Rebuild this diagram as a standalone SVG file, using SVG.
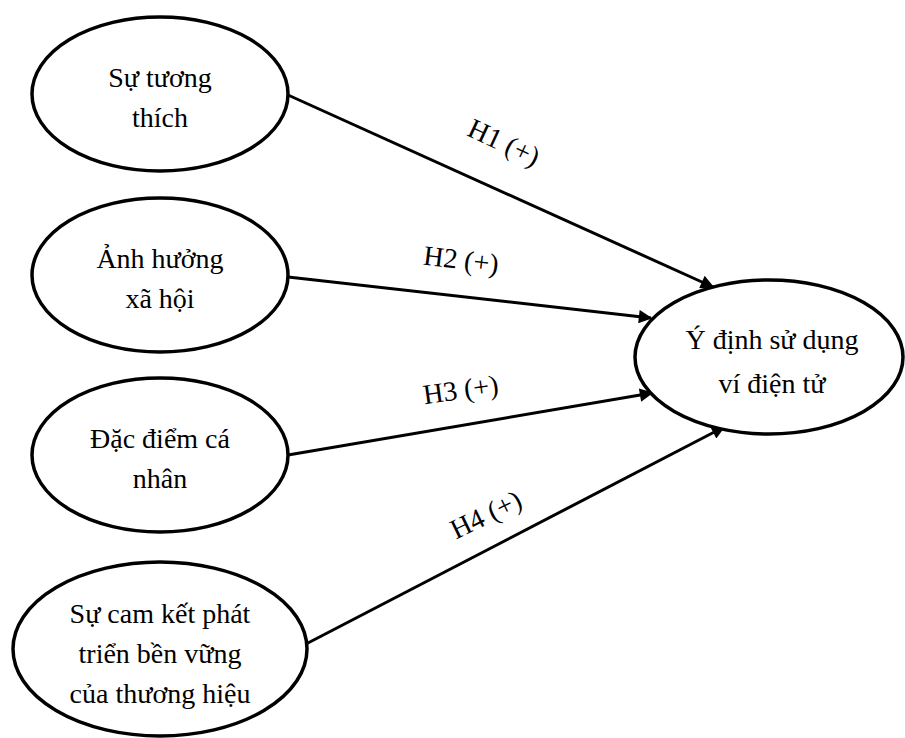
<svg xmlns="http://www.w3.org/2000/svg" width="905" height="738" viewBox="0 0 905 738">
<style>
.node{fill:#fff;stroke:#000;stroke-width:3.5}
.t{font-family:"Liberation Serif","Times New Roman",serif;font-size:28px;fill:#000;text-anchor:middle}
.c{stroke:#000;stroke-width:3;fill:none;marker-end:url(#ah)}
</style>
<defs>
<marker id="ah" viewBox="0 0 10 10" refX="9" refY="5" markerWidth="5.5" markerHeight="4.5" orient="auto" markerUnits="strokeWidth">
<path d="M0,0 L10,5 L0,10 z" fill="#000"/>
</marker>
</defs>
<rect width="905" height="738" fill="#fff"/>
<g id="connectors">
<line class="c" x1="288" y1="95" x2="713" y2="287"/>
<line class="c" x1="288" y1="277" x2="651" y2="318"/>
<line class="c" x1="288" y1="455" x2="652" y2="393"/>
<line class="c" x1="306" y1="644" x2="724" y2="427"/>
<text class="t" transform="translate(500,151) rotate(25)">H1 (+)</text>
<text class="t" transform="translate(460,269) rotate(7)">H2 (+)</text>
<text class="t" transform="translate(462,399) rotate(-8)">H3 (+)</text>
<text class="t" transform="translate(490,523) rotate(-26)">H4 (+)</text>
</g>
<g id="n1">
<ellipse class="node" cx="160" cy="94" rx="128" ry="77"/>
<text class="t" x="160" y="87">Sự tương</text>
<text class="t" x="160" y="127">thích</text>
</g>
<g id="n2">
<ellipse class="node" cx="160" cy="275" rx="128" ry="77"/>
<text class="t" x="160" y="268">Ảnh hưởng</text>
<text class="t" x="160" y="308">xã hội</text>
</g>
<g id="n3">
<ellipse class="node" cx="160" cy="455" rx="128" ry="77"/>
<text class="t" x="160" y="448">Đặc điểm cá</text>
<text class="t" x="160" y="488">nhân</text>
</g>
<g id="n4">
<ellipse class="node" cx="160" cy="649" rx="147" ry="87"/>
<text class="t" x="160" y="623">Sự cam kết phát</text>
<text class="t" x="160" y="663">triển bền vững</text>
<text class="t" x="160" y="703">của thương hiệu</text>
</g>
<g id="target">
<ellipse class="node" cx="769" cy="357" rx="134" ry="77"/>
<text class="t" x="772" y="349">Ý định sử dụng</text>
<text class="t" x="772" y="393">ví điện tử</text>
</g>
</svg>
